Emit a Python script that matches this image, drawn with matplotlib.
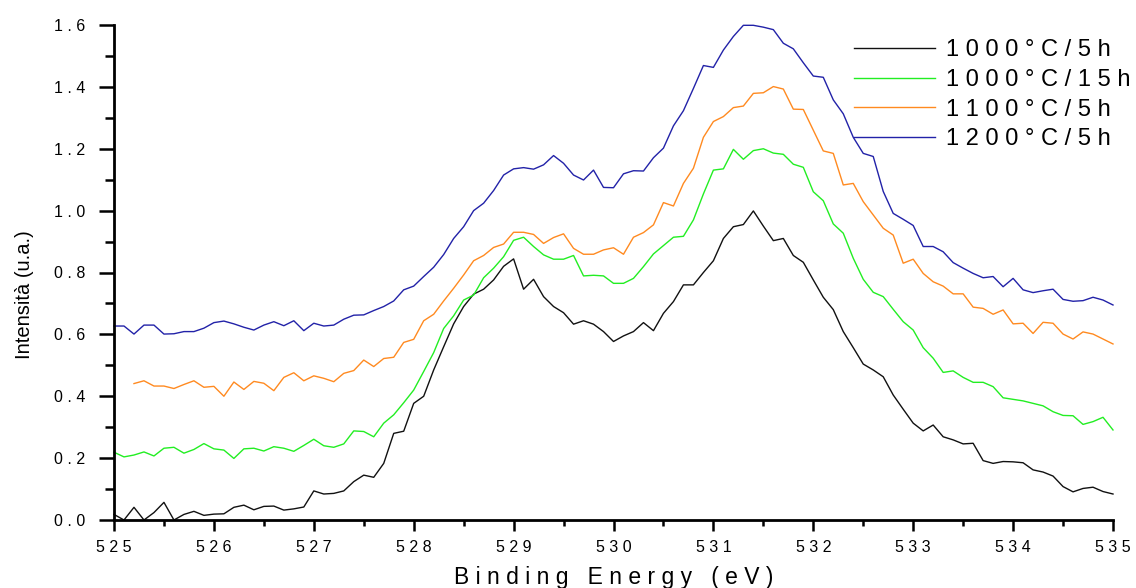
import numpy as np
import matplotlib
matplotlib.use("Agg")
import matplotlib.pyplot as plt
from matplotlib.ticker import FixedLocator, MultipleLocator

plt.rcParams['font.family'] = ['Liberation Sans', 'DejaVu Sans']

# ---- data ----
energy_start = 525.0
energy_step = 0.1
n_points = 101
energy = np.round(energy_start + energy_step * np.arange(n_points), 1)

black_1000_5h = [
    0.018, 0.000, 0.041, 0.000, 0.024, 0.057, 0.000, 0.018, 0.028, 0.015,
    0.019, 0.020, 0.041, 0.048, 0.033, 0.044, 0.045, 0.032, 0.036, 0.042,
    0.094, 0.084, 0.086, 0.094, 0.124, 0.145, 0.138, 0.183, 0.280, 0.287,
    0.377, 0.400, 0.485, 0.560, 0.634, 0.690, 0.730, 0.746, 0.776, 0.820,
    0.844, 0.746, 0.778, 0.722, 0.690, 0.670, 0.633, 0.644, 0.633, 0.609,
    0.577, 0.595, 0.609, 0.638, 0.612, 0.668, 0.706, 0.760, 0.760, 0.800,
    0.838, 0.910, 0.948, 0.955, 0.999, 0.950, 0.903, 0.910, 0.855, 0.833,
    0.776, 0.720, 0.680, 0.609, 0.557, 0.504, 0.485, 0.463, 0.404, 0.358,
    0.313, 0.288, 0.307, 0.269, 0.259, 0.246, 0.248, 0.192, 0.183, 0.189,
    0.188, 0.185, 0.162, 0.155, 0.142, 0.108, 0.091, 0.102, 0.106, 0.092,
    0.084]

green_1000_15h = [
    0.219, 0.204, 0.210, 0.220, 0.207, 0.232, 0.235, 0.216, 0.228, 0.247,
    0.230, 0.226, 0.199, 0.230, 0.232, 0.223, 0.237, 0.232, 0.222, 0.241,
    0.261, 0.240, 0.235, 0.246, 0.288, 0.286, 0.269, 0.313, 0.340, 0.379,
    0.420, 0.480, 0.541, 0.619, 0.660, 0.711, 0.727, 0.783, 0.814, 0.851,
    0.904, 0.914, 0.884, 0.857, 0.843, 0.843, 0.855, 0.789, 0.791, 0.789,
    0.765, 0.765, 0.781, 0.819, 0.860, 0.887, 0.914, 0.917, 0.970, 1.054,
    1.131, 1.135, 1.198, 1.166, 1.194, 1.200, 1.186, 1.182, 1.150, 1.140,
    1.061, 1.032, 0.957, 0.927, 0.846, 0.778, 0.736, 0.722, 0.681, 0.641,
    0.614, 0.557, 0.523, 0.477, 0.482, 0.461, 0.445, 0.445, 0.431, 0.395,
    0.390, 0.385, 0.377, 0.369, 0.350, 0.338, 0.337, 0.309, 0.318, 0.332,
    0.291]

# starts at 525.2 eV (first two samples missing)
orange_1100_5h = [
    np.nan, np.nan, 0.441, 0.450, 0.433, 0.433, 0.425, 0.438, 0.450, 0.429,
    0.432, 0.400, 0.446, 0.422, 0.448, 0.442, 0.418, 0.461, 0.476, 0.450,
    0.466, 0.458, 0.447, 0.474, 0.483, 0.517, 0.496, 0.522, 0.526, 0.574,
    0.584, 0.644, 0.665, 0.708, 0.749, 0.792, 0.838, 0.855, 0.881, 0.892,
    0.930, 0.930, 0.923, 0.894, 0.913, 0.925, 0.878, 0.859, 0.859, 0.873,
    0.880, 0.859, 0.914, 0.929, 0.954, 1.026, 1.015, 1.088, 1.137, 1.237,
    1.288, 1.304, 1.333, 1.338, 1.379, 1.381, 1.401, 1.393, 1.328, 1.327,
    1.260, 1.193, 1.185, 1.083, 1.088, 1.029, 0.986, 0.943, 0.921, 0.830,
    0.843, 0.797, 0.770, 0.756, 0.731, 0.731, 0.688, 0.684, 0.665, 0.679,
    0.634, 0.636, 0.603, 0.639, 0.636, 0.601, 0.585, 0.608, 0.601, 0.585,
    0.569]

blue_1200_5h = [
    0.627, 0.627, 0.601, 0.630, 0.630, 0.601, 0.602, 0.609, 0.609, 0.620,
    0.638, 0.643, 0.634, 0.623, 0.614, 0.630, 0.641, 0.628, 0.644, 0.612,
    0.636, 0.627, 0.630, 0.649, 0.662, 0.663, 0.677, 0.690, 0.708, 0.744,
    0.756, 0.787, 0.817, 0.858, 0.910, 0.948, 1.000, 1.024, 1.065, 1.115,
    1.135, 1.139, 1.134, 1.148, 1.178, 1.153, 1.115, 1.099, 1.131, 1.075,
    1.074, 1.119, 1.129, 1.128, 1.171, 1.202, 1.274, 1.323, 1.395, 1.469,
    1.463, 1.519, 1.563, 1.599, 1.599, 1.593, 1.585, 1.541, 1.523, 1.478,
    1.435, 1.431, 1.358, 1.313, 1.237, 1.185, 1.175, 1.062, 0.991, 0.972,
    0.952, 0.884, 0.884, 0.867, 0.832, 0.814, 0.797, 0.783, 0.787, 0.754,
    0.781, 0.744, 0.735, 0.741, 0.746, 0.713, 0.707, 0.709, 0.720, 0.711,
    0.695]

series_labels = ["1000°C/5h", "1000°C/15h", "1100°C/5h", "1200°C/5h"]
series_colors = ["#111111", "#22ee22", "#ff8a20", "#2222a8"]

x_ticks = [525, 526, 527, 528, 529, 530, 531, 532, 533, 534, 535]
x_tick_labels = ["525", "526", "527", "528", "529", "530", "531", "532", "533", "534", "535"]
y_ticks = [0.0, 0.2, 0.4, 0.6, 0.8, 1.0, 1.2, 1.4, 1.6]
y_tick_labels = ["0.0", "0.2", "0.4", "0.6", "0.8", "1.0", "1.2", "1.4", "1.6"]
x_label = "Binding Energy (eV)"
y_label = "Intensità (u.a.)"


def spaced(s):
    return " ".join(s)


# ---- figure ----
W, H = 1136, 588
fig = plt.figure(figsize=(W / 100, H / 100), dpi=100)
ax = fig.add_axes([114 / W, 1 - 520 / H, 999 / W, 495 / H])

all_series = [black_1000_5h, green_1000_15h, orange_1100_5h, blue_1200_5h]
for vals, lab, col in zip(all_series, series_labels, series_colors):
    ax.plot(energy, vals, color=col, lw=1.0, label=spaced(lab), clip_on=False)

ax.set_xlim(525, 535)
ax.set_ylim(0, 1.6)

for s in ["top", "right"]:
    ax.spines[s].set_visible(False)
for s in ["left", "bottom"]:
    ax.spines[s].set_linewidth(2.0)

ax.xaxis.set_major_locator(FixedLocator(x_ticks))
ax.set_xticklabels([spaced(t) for t in x_tick_labels])
ax.xaxis.set_minor_locator(MultipleLocator(0.5))
ax.yaxis.set_major_locator(FixedLocator(y_ticks))
ax.set_yticklabels([spaced(t) for t in y_tick_labels])
ax.yaxis.set_minor_locator(MultipleLocator(0.1))

ax.tick_params(axis='y', which='major', direction='out', length=11, width=1.8,
               pad=9.5, labelsize=11.5)
ax.tick_params(axis='y', which='minor', direction='out', length=6.5, width=1.8)
ax.tick_params(axis='x', which='major', direction='out', length=7.7, width=1.8,
               pad=7, labelsize=11.5)
ax.tick_params(axis='x', which='minor', direction='out', length=4, width=1.8)

ax.set_xlabel(spaced(x_label), fontsize=16.5, labelpad=7.5)
ax.set_ylabel(y_label, fontsize=14.5)
ax.yaxis.set_label_coords(-0.080, 0.4545)

leg = ax.legend(loc='upper left', bbox_to_anchor=(854 / W, 1 - 39 / H),
                bbox_transform=fig.transFigure, frameon=False, fontsize=17,
                handlelength=3.45, handletextpad=0.45, labelspacing=0.33,
                borderpad=0, borderaxespad=0)

fig.savefig("out.png", dpi=100)
